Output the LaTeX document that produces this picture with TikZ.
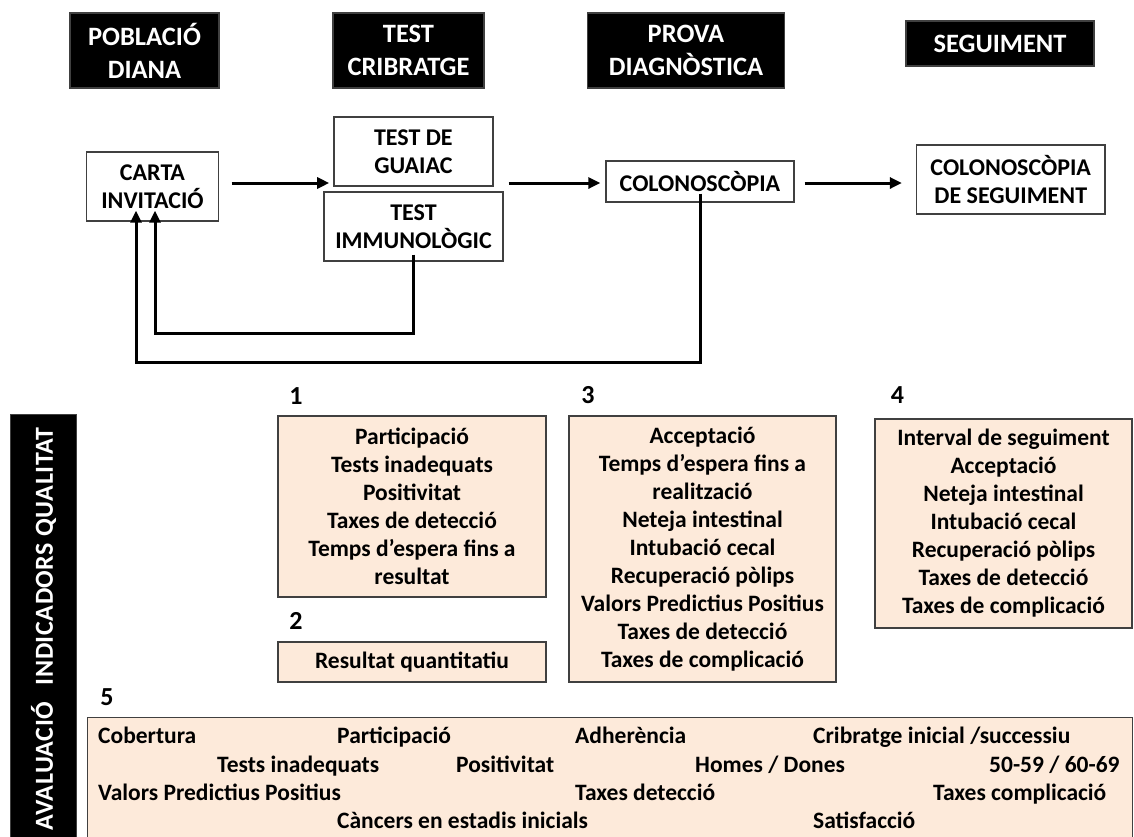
\documentclass[tikz,border=0pt]{standalone}
\usepackage{fontspec}
\setmainfont{Carlito}
\usetikzlibrary{arrows.meta}
\definecolor{peach}{HTML}{FDEADA}
\definecolor{bord}{HTML}{404040}
\tikzset{
  hdr/.style={draw=bord, line width=1.2pt, fill=black, text=white, inner sep=0pt, align=center,
    font=\fontsize{26.5}{33}\selectfont\bfseries},
  flow/.style={draw=bord, line width=1.4pt, fill=white, inner sep=0pt, align=center,
    font=\fontsize{24}{28}\selectfont\bfseries},
  ind/.style={draw=bord, line width=1.4pt, fill=peach, inner sep=0pt, align=center,
    font=\fontsize{23.5}{28}\selectfont\bfseries},
  num/.style={inner sep=0pt, font=\fontsize{26}{28}\selectfont\bfseries},
  itm/.style={inner sep=0pt, anchor=base west, font=\fontsize{23.5}{28}\selectfont\bfseries},
  arr/.style={line width=3pt, -{Triangle[length=12pt,width=11pt]}},
}
\begin{document}
\begin{tikzpicture}[x=1pt,y=-1pt]
\useasboundingbox (0,0) rectangle (1134,836);
% headers
\node[hdr, minimum width=149pt, minimum height=75pt] (h1) at (144.5,50.5) {POBLACIÓ\\DIANA};
\node[hdr, minimum width=151pt, minimum height=75pt] (h2) at (408.5,50.5) {TEST\\CRIBRATGE};
\node[hdr, minimum width=197pt, minimum height=75pt] (h3) at (686,50.5) {PROVA\\DIAGNÒSTICA};
\node[hdr, minimum width=188pt, minimum height=45pt] (h4) at (1000,43.5) {SEGUIMENT};
% flow
\node[flow, minimum width=132pt, minimum height=69pt] (carta) at (152.5,186.5) {CARTA\\INVITACIÓ};
\node[flow, minimum width=159pt, minimum height=69pt] (guaiac) at (413.4,151.5) {TEST DE\\GUAIAC};
\node[flow, minimum width=179pt, minimum height=69pt] (immuno) at (413.5,226.5) {TEST\\IMMUNOLÒGIC};
\node[flow, minimum width=188pt, minimum height=41pt] (colon) at (700,181.5) {COLONOSCÒPIA};
\node[flow, minimum width=188.5pt, minimum height=69pt] (colseg) at (1010.75,179.5) {COLONOSCÒPIA\\DE SEGUIMENT};
\coordinate (ay) at (0,183);
\draw[arr] ([xshift=12.5pt]carta.east |- ay) -- ([xshift=-4pt]guaiac.west |- ay);
\draw[arr] ([xshift=5pt]immuno.east |- ay) -- ([xshift=-5pt]colon.west |- ay);
\draw[arr] ([xshift=10pt]colon.east |- ay) -- ([xshift=-14pt]colseg.west |- ay);
% feedback
\coordinate (fb1) at (155,333);
\coordinate (fb2) at (136,362);
\draw[arr] ([yshift=7pt]immuno.south) |- (fb1) -- ([yshift=11pt]carta.south -| fb1);
\draw[arr] ([yshift=9pt]colon.south) |- (fb2) -- ([yshift=11pt]carta.south -| fb2);
% vertical bar
\node[fill=black, draw=bord, line width=1pt, minimum width=66pt, minimum height=440pt, inner sep=0pt] (bar) at (43,634) {};
\node[rotate=90, text=white, inner sep=0pt, font=\fontsize{26}{30}\selectfont\bfseries\addfontfeature{LetterSpace=2}] (bartxt) at (43.5,629) {AVALUACIÓ\hspace{0.4em} INDICADORS QUALITAT};
% indicator boxes
\node[num] (n1) at (296,396) {1};
\node[ind, minimum width=268pt, minimum height=181pt] (b1) at (412,506.5) {Participació\\Tests inadequats\\Positivitat\\Taxes de detecció\\Temps d’espera fins a\\resultat};
\node[num] (n2) at (296,621) {2};
\node[ind, minimum width=268pt, minimum height=40pt] (b2) at (412,662) {Resultat quantitatiu};
\node[num] (n3) at (588,395) {3};
\node[ind, minimum width=267pt, minimum height=266pt] (b3) at (702.5,549) {Acceptació\\Temps d’espera fins a\\realització\\Neteja intestinal\\Intubació cecal\\Recuperació pòlips\\Valors Predictius Positius\\Taxes de detecció\\Taxes de complicació};
\node[num] (n4) at (897.5,395) {4};
\node[ind, minimum width=257pt, minimum height=209pt] (b4) at (1003.5,523.5) {Interval de seguiment\\Acceptació\\Neteja intestinal\\Intubació cecal\\Recuperació pòlips\\Taxes de detecció\\Taxes de complicació};
\node[num] (n5) at (107,697) {5};
\node[ind, minimum width=1045pt, minimum height=140pt, anchor=north west] (b5) at (87,717) {};
% box 5 items
\node[itm] (c1) at (98,743) {Cobertura};
\node[itm] (c2) at (337,743) {Participació};
\node[itm] (c3) at (575,743) {Adherència};
\node[itm] (c4) at (813,743) {Cribratge inicial /successiu};
\node[itm] (c5) at (217,772) {Tests inadequats};
\node[itm] (c6) at (456,772) {Positivitat};
\node[itm] (c7) at (695,772) {Homes / Dones};
\node[itm] (c8) at (989,772) {50-59 / 60-69};
\node[itm] (c9) at (98,800) {Valors Predictius Positius};
\node[itm] (c10) at (575,800) {Taxes detecció};
\node[itm] (c11) at (933,800) {Taxes complicació};
\node[itm] (c12) at (337,828) {Càncers en estadis inicials};
\node[itm] (c13) at (813,828) {Satisfacció};
\end{tikzpicture}
\end{document}
